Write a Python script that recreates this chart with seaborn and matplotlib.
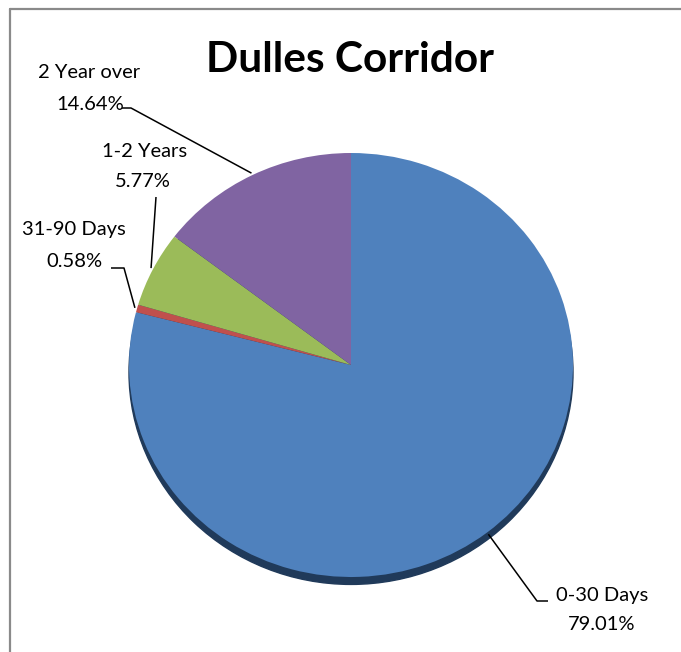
import matplotlib
matplotlib.use("Agg")
import numpy as np
import matplotlib.pyplot as plt
import seaborn as sns
from matplotlib.patches import Ellipse
from matplotlib.lines import Line2D

# Data
categories = ["0-30 Days", "31-90 Days", "1-2 Years", "2 Year over"]
shares = [79.01, 0.58, 5.77, 14.64]
colors = ["#4F81BD", "#C0504D", "#9BBB59", "#8064A2"]
title = "Dulles Corridor"

sns.set_theme(style="white")
plt.rcParams["font.family"] = ["Lato", "DejaVu Sans"]

W, H = 681, 652
CX, CY, RX, RY = 351, 365, 222, 212   # pie centre / radii in pixels


def px(x, y):
    # pixel position -> data coordinates of the pie axes
    return ((x - CX) / RX, (CY - y) / RY)


fig = plt.figure(figsize=(W / 100, H / 100), dpi=100)
ax = fig.add_axes([0, 0, 1, 1])

# dark rim under the pie
ax.add_patch(Ellipse((0, -0.035), 2, 2, color="#203a5a", zorder=1))

wedges, _ = ax.pie(shares, colors=colors, startangle=90, counterclock=False,
                   radius=1, wedgeprops=dict(linewidth=0))
for w in wedges:
    w.set_zorder(2)

ax.set_aspect("auto")
ax.set_xlim(-CX / RX, (W - CX) / RX)
ax.set_ylim(-(H - CY) / RY, CY / RY)
ax.axis("off")

# label layout: centres of the two text lines and leader elbow points (pixels)
layout = {
    "0-30 Days": dict(name=(602, 595), pct=(602, 625), path=[(548, 601), (537, 601)]),
    "31-90 Days": dict(name=(74, 230), pct=(74, 262), path=[(111, 268), (124, 268)]),
    "1-2 Years": dict(name=(145, 152), pct=(143, 182), path=[(156, 197)]),
    "2 Year over": dict(name=(89, 72), pct=(90, 105), path=[(122, 108), (131, 108)]),
}

for w, cat, val in zip(wedges, categories, shares):
    mid = np.deg2rad((w.theta1 + w.theta2) / 2)
    anchor = (np.cos(mid) * 1.01, np.sin(mid) * 1.01)
    lay = layout[cat]
    pts = [px(*p) for p in lay["path"]] + [anchor]
    xs, ys = zip(*pts)
    ax.plot(xs, ys, color="black", lw=1.1, zorder=3, solid_capstyle="butt")
    for key, txt in (("name", cat), ("pct", f"{val:.2f}%")):
        tx, ty = px(*lay[key])
        ax.text(tx, ty, txt, ha="center", va="center",
                fontsize=14.5, color="black", zorder=4)

fig.text(350 / W, 1 - 72 / H, title, ha="center", va="baseline",
         fontsize=30.5, fontweight="bold", color="black")

# chart frame: only the left and top edges are inside the picture
frame_kw = dict(transform=fig.transFigure, color="#8a8a8a", linewidth=1.6)
fig.add_artist(Line2D([9.5 / W, 9.5 / W], [0, 1 - 8.5 / H], **frame_kw))
fig.add_artist(Line2D([9.5 / W, 1], [1 - 8.5 / H, 1 - 8.5 / H], **frame_kw))

fig.savefig("out.png", dpi=100)
